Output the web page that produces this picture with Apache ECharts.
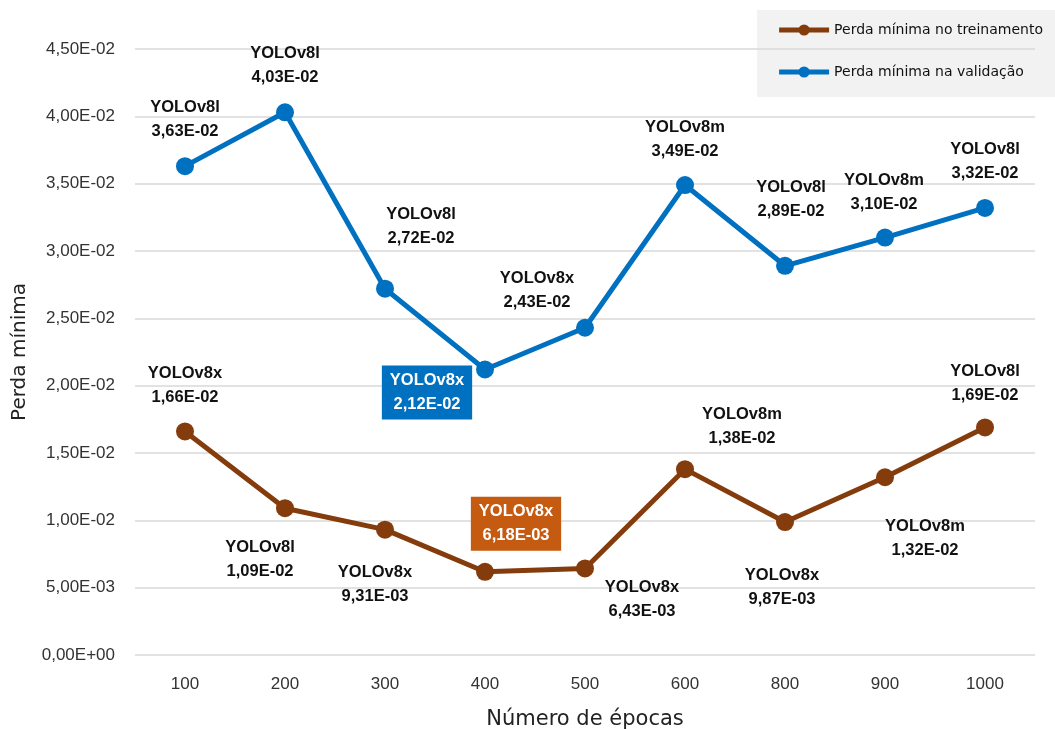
<!DOCTYPE html>
<html>
<head>
<meta charset="utf-8">
<script src="https://cdn.jsdelivr.net/npm/echarts@6/dist/echarts.min.js"></script>
<style>
  html, body { margin: 0; padding: 0; background: #fff; }
  #chart { width: 1055px; height: 729px; }
</style>
</head>
<body>
<div id="chart"></div>
<script>
const epochs = ['100', '200', '300', '400', '500', '600', '800', '900', '1000']

const trainLoss = [0.0166, 0.0109, 0.00931, 0.00618, 0.00643, 0.0138, 0.00987, 0.0132, 0.0169]
const trainModel = ['YOLOv8x', 'YOLOv8l', 'YOLOv8x', 'YOLOv8x', 'YOLOv8x', 'YOLOv8m', 'YOLOv8x', 'YOLOv8m', 'YOLOv8l']

const valLoss = [0.0363, 0.0403, 0.0272, 0.0212, 0.0243, 0.0349, 0.0289, 0.0310, 0.0332]
const valModel = ['YOLOv8l', 'YOLOv8l', 'YOLOv8l', 'YOLOv8x', 'YOLOv8x', 'YOLOv8m', 'YOLOv8l', 'YOLOv8m', 'YOLOv8l']

// label placement (offset from the point), kept apart from the data
const trainOffset = [[0, -46], [-25, 51], [-10, 55], [31, -48], [57, 31], [57, -43], [-3, 65], [40, 61], [0, -44]]
const valOffset = [[0, -47], [0, -47], [36, -62], [-58, 23], [-48, -37], [0, -46], [6, -66], [-1, -45], [0, -46]]
const trainBest = 3
const valBest = 3

const FONT = 'DejaVu Sans'
const NUMFONT = 'Liberation Sans'
const BROWN = '#843C0C'
const BLUE = '#0070C0'

// 0.0166 -> "1,66E-02"
function sci (v) {
  const [m, e] = Number(v).toExponential(2).split('e')
  const n = parseInt(e, 10)
  const exp = (n < 0 ? '-' : '+') + String(Math.abs(n)).padStart(2, '0')
  return m.replace('.', ',') + 'E' + exp
}

function buildData (values, offsets, best, boxColor) {
  return values.map((v, i) => {
    const label = { offset: offsets[i] }
    if (i === best) {
      label.backgroundColor = boxColor
      label.color = '#fff'
      label.padding = [3, 8]
    }
    return { value: v, label }
  })
}

function series (name, values, models, offsets, best, color, boxColor) {
  return {
    name,
    type: 'line',
    data: buildData(values, offsets, best, boxColor),
    symbol: 'circle',
    symbolSize: 18,
    color,
    lineStyle: { width: 5, color },
    itemStyle: { color },
    label: {
      show: true,
      position: 'inside',
      align: 'center',
      verticalAlign: 'middle',
      fontFamily: NUMFONT,
      fontSize: 16.5,
      fontWeight: 'bold',
      lineHeight: 24,
      color: '#111',
      formatter: p => models[p.dataIndex] + '\n' + sci(p.value)
    },
    emphasis: { disabled: true },
    animation: false
  }
}

const chart = echarts.init(document.getElementById('chart'))
chart.setOption({
  backgroundColor: '#fff',
  animation: false,
  grid: { left: 135, right: 20, top: 49, bottom: 74, outerBoundsMode: 'none' },
  graphic: [{
    type: 'rect',
    right: 0,
    top: 10,
    z: -10,
    shape: { width: 298, height: 87 },
    style: { fill: '#f2f2f2' }
  }],
  legend: {
    orient: 'vertical',
    right: 0,
    top: 10,
    padding: [13, 12, 18, 20],
    itemWidth: 50,
    itemHeight: 14,
    itemGap: 28,
    lineStyle: { width: 5 },
    textStyle: { fontFamily: FONT, fontSize: 14, color: '#111' },
    data: ['Perda mínima no treinamento', 'Perda mínima na validação']
  },
  xAxis: {
    type: 'category',
    data: epochs,
    name: 'Número de épocas',
    nameLocation: 'middle',
    nameGap: 54,
    nameTextStyle: { fontFamily: FONT, fontSize: 21, color: '#222' },
    axisLine: { show: false },
    axisTick: { show: false },
    axisLabel: { fontFamily: NUMFONT, fontSize: 17, color: '#333', margin: 21 }
  },
  yAxis: {
    type: 'value',
    min: 0,
    max: 0.045,
    interval: 0.005,
    name: 'Perda mínima',
    nameLocation: 'middle',
    nameGap: 105,
    nameTextStyle: { fontFamily: FONT, fontSize: 20, color: '#222' },
    axisLabel: { fontFamily: NUMFONT, fontSize: 17, color: '#333', margin: 20, formatter: v => sci(v) },
    splitLine: { lineStyle: { color: '#d9d9d9', width: 1.5 } }
  },
  series: [
    series('Perda mínima no treinamento', trainLoss, trainModel, trainOffset, trainBest, BROWN, '#C55A11'),
    series('Perda mínima na validação', valLoss, valModel, valOffset, valBest, BLUE, BLUE)
  ]
})
</script>
</body>
</html>
